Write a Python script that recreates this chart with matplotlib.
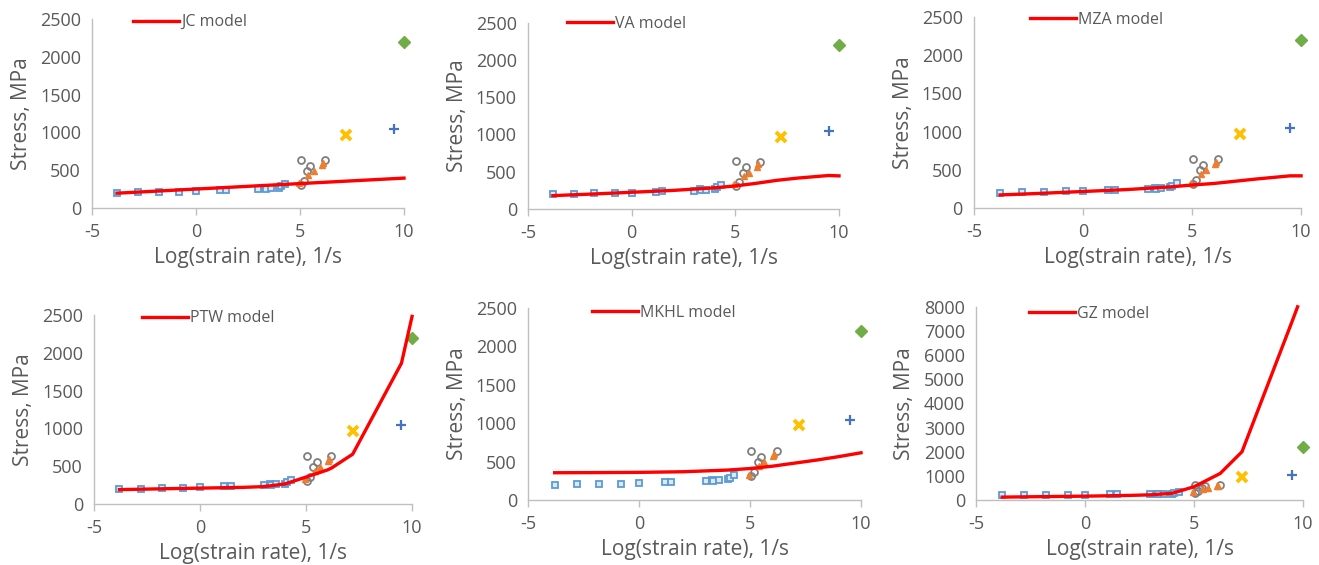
import numpy as np
import matplotlib
matplotlib.use("Agg")
import matplotlib.pyplot as plt

plt.rcParams['font.family'] = ['Open Sans', 'DejaVu Sans']
plt.rcParams['axes.unicode_minus'] = False

# experimental points: log10(strain rate) vs flow stress (MPa)
sq_x = [-3.8, -2.8, -1.8, -0.8, 0.0, 1.15, 1.45, 3.0, 3.3, 3.35, 3.6, 4.0, 4.1, 4.3]
sq_y = [200, 205, 210, 215, 220, 235, 240, 245, 265, 250, 260, 270, 290, 320]
circ_x = [5.05, 5.05, 5.2, 5.35, 5.5, 6.2]
circ_y = [640, 310, 360, 490, 560, 635]
tri_x = [4.95, 5.4, 5.65, 6.05, 6.1]
tri_y = [330, 440, 490, 570, 600]
xm_x, xm_y = [7.2], [970]
plus_x, plus_y = [9.5], [1040]
dia_x, dia_y = [10.0], [2200]

# model predictions
jc_x = [-3.8, 10]
jc_y = [195, 395]
va_x = [-3.8, -2, 0, 2, 4, 5, 6, 7, 8, 9.5, 10]
va_y = [180, 200, 225, 250, 285, 310, 345, 385, 415, 450, 445]
mza_x = [-3.8, -2, 0, 2, 4, 5, 6, 7, 8, 9.5, 10]
mza_y = [170, 190, 215, 240, 275, 300, 320, 350, 380, 420, 420]
ptw_x = [-3.8, -2, 0, 2, 3, 4, 5, 6, 6.2, 7.2, 9.5, 10]
ptw_y = [190, 200, 210, 220, 230, 265, 357, 450, 476, 660, 1865, 2485]
mkhl_x = [-3.8, -2, 0, 2, 4, 5, 6, 7, 8, 9, 10]
mkhl_y = [355, 357, 360, 368, 390, 410, 440, 480, 520, 565, 615]
gz_x = [-3.8, -2, 0, 2, 3, 4, 5, 6.2, 7.2, 9.5, 9.75]
gz_y = [120, 140, 160, 190, 215, 280, 550, 1100, 2000, 7400, 8000]

models = [("JC model", jc_x, jc_y), ("VA model", va_x, va_y),
          ("MZA model", mza_x, mza_y), ("PTW model", ptw_x, ptw_y),
          ("MKHL model", mkhl_x, mkhl_y), ("GZ model", gz_x, gz_y)]

# axes rectangles [left, bottom, width, height] and legend anchors
rects = [[0.0698, 0.632, 0.2365, 0.334],
         [0.4003, 0.630, 0.2358, 0.330],
         [0.7384, 0.632, 0.2480, 0.338],
         [0.0713, 0.108, 0.2411, 0.334],
         [0.4003, 0.115, 0.2525, 0.340],
         [0.7400, 0.115, 0.2479, 0.342]]
leg_pos = [(0.131, 0.984), (0.125, 0.995), (0.171, 0.984),
           (0.151, 0.984), (0.192, 0.974), (0.162, 0.964)]
ymax = [2500, 2500, 2500, 2500, 2500, 8000]

txt = '#595959'
fig = plt.figure(figsize=(13.19, 5.65), dpi=100)

for i, (name, mx, my) in enumerate(models):
    ax = fig.add_axes(rects[i])
    ax.plot(sq_x, sq_y, 's', ms=5, mfc='#DCE9F7', mec='#5B9BD5', mew=1.3, clip_on=False)
    ax.plot(circ_x, circ_y, 'o', ms=5, mfc='none', mec='#7F7F7F', mew=1.3, clip_on=False)
    ax.plot(tri_x, tri_y, '^', ms=5, color='#ED7D31', clip_on=False)
    ax.plot(xm_x, xm_y, 'x', ms=6.5, color='#FFC000', mew=2.8, clip_on=False)
    ax.plot(plus_x, plus_y, '+', ms=7, color='#4472C4', mew=1.6, clip_on=False)
    ax.plot(dia_x, dia_y, 'D', ms=6, color='#70AD47', clip_on=False)
    ax.plot(mx, my, '-', color='#FF0000', lw=2.4, label=name, zorder=5, clip_on=False)

    ax.set_xlim(-5, 10)
    ax.set_ylim(0, ymax[i])
    ax.set_xticks([-5, 0, 5, 10])
    if ymax[i] == 8000:
        ax.set_yticks(np.arange(0, 8001, 1000))
    else:
        ax.set_yticks(np.arange(0, 2501, 500))
    for s in ['top', 'right']:
        ax.spines[s].set_visible(False)
    for s in ['left', 'bottom']:
        ax.spines[s].set_color('#BFBFBF')
        ax.spines[s].set_linewidth(1.0)
    ax.tick_params(axis='x', colors='#BFBFBF', labelcolor=txt, labelsize=13,
                   length=5, width=1.0, direction='out', pad=6)
    ax.tick_params(axis='y', colors='#BFBFBF', labelcolor=txt, labelsize=13,
                   length=0, pad=8)
    ax.set_xlabel('Log(strain rate), 1/s', fontsize=15, color=txt, labelpad=4)
    ax.set_ylabel('Stress, MPa', fontsize=15, color=txt, labelpad=6)
    ax.legend(loc='center left', bbox_to_anchor=leg_pos[i], frameon=False,
              fontsize=11.5, handlelength=2.9, handletextpad=0.1, borderpad=0,
              borderaxespad=0, labelcolor=txt)

fig.savefig('out.png', dpi=100)
